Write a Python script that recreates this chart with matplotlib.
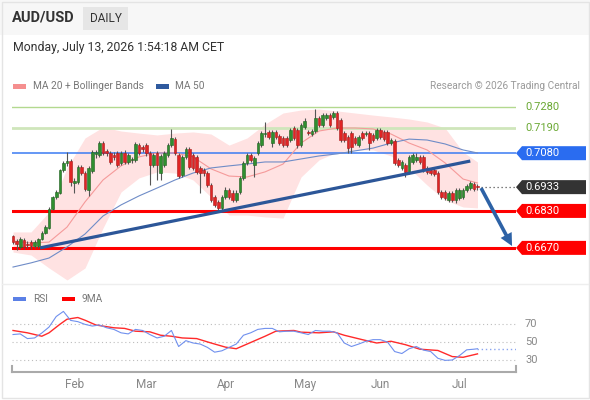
import numpy as np
import pandas as pd
import matplotlib
matplotlib.use('Agg')
import matplotlib.pyplot as plt
from matplotlib.patches import Rectangle, Polygon, FancyArrowPatch
from matplotlib import transforms
from matplotlib.lines import Line2D

plt.rcParams['font.family'] = ['Roboto', 'DejaVu Sans']

# ---------------- data ----------------
opens = [
    0.6720, 0.6700, 0.6674, 0.6705, 0.6687, 0.6696, 0.6679, 0.6679, 0.6709, 0.6735,
    0.6756, 0.6838, 0.6890, 0.6908, 0.7007, 0.7038, 0.7046, 0.6951, 0.6955, 0.7020,
    0.6994, 0.6921, 0.7003, 0.7077, 0.7072, 0.7124, 0.7090, 0.7081, 0.7072, 0.7081,
    0.7038, 0.7081, 0.7042, 0.7051, 0.7051, 0.7116, 0.7107, 0.7116, 0.7081, 0.7029,
    0.7081, 0.6994, 0.7029, 0.7072, 0.7116, 0.7141, 0.7072, 0.6986, 0.7064, 0.7098,
    0.7072, 0.7064, 0.7016, 0.7007, 0.6994, 0.6942, 0.6890, 0.6869, 0.6843, 0.6890,
    0.6921, 0.6908, 0.6877, 0.6912, 0.6973, 0.7038, 0.7072, 0.7029, 0.7081, 0.7116,
    0.7163, 0.7172, 0.7124, 0.7172, 0.7154, 0.7146, 0.7146, 0.7137, 0.7189, 0.7180,
    0.7116, 0.7193, 0.7172, 0.7163, 0.7176, 0.7232, 0.7202, 0.7232, 0.7245, 0.7237,
    0.7254, 0.7224, 0.7167, 0.7150, 0.7167, 0.7146, 0.7116, 0.7167, 0.7163, 0.7167,
    0.7159, 0.7146, 0.7180, 0.7172, 0.7172, 0.7124, 0.7133, 0.7051, 0.7016, 0.7029,
    0.6999, 0.7042, 0.7051, 0.7064, 0.7064, 0.7016, 0.7007, 0.7007, 0.6994, 0.6912,
    0.6912, 0.6877, 0.6908, 0.6877, 0.6886, 0.6890, 0.6921, 0.6929, 0.6947, 0.6938,
]
closes = [
    0.6694, 0.6687, 0.6709, 0.6674, 0.6683, 0.6679, 0.6696, 0.6709, 0.6735, 0.6760,
    0.6838, 0.6890, 0.6912, 0.7007, 0.7038, 0.7046, 0.6955, 0.6960, 0.7020, 0.6994,
    0.6925, 0.7016, 0.7085, 0.7085, 0.7124, 0.7081, 0.7081, 0.7042, 0.7064, 0.7029,
    0.7081, 0.7042, 0.7072, 0.7055, 0.7120, 0.7081, 0.7098, 0.7081, 0.7029, 0.7072,
    0.7029, 0.7068, 0.7081, 0.7116, 0.7146, 0.7081, 0.6981, 0.7064, 0.7098, 0.7020,
    0.7016, 0.6999, 0.6994, 0.6994, 0.6942, 0.6877, 0.6856, 0.6843, 0.6890, 0.6921,
    0.6890, 0.6877, 0.6908, 0.6973, 0.7038, 0.7072, 0.7051, 0.7059, 0.7124, 0.7167,
    0.7167, 0.7150, 0.7172, 0.7150, 0.7124, 0.7116, 0.7116, 0.7180, 0.7146, 0.7116,
    0.7202, 0.7219, 0.7167, 0.7176, 0.7232, 0.7202, 0.7245, 0.7245, 0.7202, 0.7254,
    0.7189, 0.7137, 0.7137, 0.7103, 0.7107, 0.7124, 0.7150, 0.7146, 0.7167, 0.7124,
    0.7137, 0.7180, 0.7150, 0.7141, 0.7124, 0.7137, 0.7038, 0.7029, 0.7042, 0.6999,
    0.7064, 0.7072, 0.7064, 0.7042, 0.7007, 0.6999, 0.6994, 0.6990, 0.6912, 0.6890,
    0.6886, 0.6908, 0.6877, 0.6921, 0.6921, 0.6921, 0.6938, 0.6951, 0.6925, 0.6933,
]
highs = [
    0.6726, 0.6709, 0.6717, 0.6713, 0.6700, 0.6705, 0.6705, 0.6713, 0.6743, 0.6769,
    0.6847, 0.6895, 0.6921, 0.7012, 0.7046, 0.7085, 0.7055, 0.6973, 0.7029, 0.7029,
    0.7003, 0.7025, 0.7094, 0.7094, 0.7133, 0.7133, 0.7098, 0.7090, 0.7085, 0.7090,
    0.7090, 0.7094, 0.7081, 0.7064, 0.7128, 0.7124, 0.7116, 0.7124, 0.7090, 0.7081,
    0.7090, 0.7077, 0.7090, 0.7124, 0.7185, 0.7150, 0.7081, 0.7072, 0.7107, 0.7107,
    0.7081, 0.7072, 0.7025, 0.7016, 0.7003, 0.6951, 0.6899, 0.6877, 0.6899, 0.6934,
    0.6929, 0.6921, 0.6921, 0.6981, 0.7046, 0.7081, 0.7081, 0.7068, 0.7133, 0.7176,
    0.7215, 0.7180, 0.7180, 0.7180, 0.7163, 0.7154, 0.7154, 0.7189, 0.7198, 0.7189,
    0.7211, 0.7232, 0.7180, 0.7185, 0.7271, 0.7241, 0.7254, 0.7254, 0.7254, 0.7263,
    0.7263, 0.7232, 0.7176, 0.7159, 0.7176, 0.7154, 0.7159, 0.7176, 0.7176, 0.7176,
    0.7167, 0.7189, 0.7189, 0.7180, 0.7180, 0.7146, 0.7141, 0.7059, 0.7051, 0.7038,
    0.7072, 0.7081, 0.7081, 0.7072, 0.7072, 0.7025, 0.7016, 0.7016, 0.7003, 0.6921,
    0.6921, 0.6916, 0.6916, 0.6929, 0.6929, 0.6929, 0.6947, 0.6960, 0.6955, 0.6947,
]
lows = [
    0.6688, 0.6661, 0.6666, 0.6666, 0.6670, 0.6666, 0.6670, 0.6670, 0.6705, 0.6730,
    0.6752, 0.6834, 0.6882, 0.6903, 0.6999, 0.7025, 0.6938, 0.6908, 0.6947, 0.6986,
    0.6916, 0.6895, 0.6994, 0.7059, 0.7064, 0.7072, 0.7068, 0.7033, 0.7051, 0.7020,
    0.7029, 0.7033, 0.7033, 0.7038, 0.7042, 0.7072, 0.7085, 0.7068, 0.6942, 0.7020,
    0.6964, 0.6964, 0.7020, 0.7064, 0.7107, 0.7072, 0.6973, 0.6977, 0.7055, 0.7012,
    0.7007, 0.6990, 0.6908, 0.6981, 0.6934, 0.6869, 0.6847, 0.6830, 0.6834, 0.6882,
    0.6882, 0.6869, 0.6869, 0.6903, 0.6964, 0.7029, 0.7042, 0.6977, 0.7072, 0.7107,
    0.7150, 0.7141, 0.7107, 0.7141, 0.7116, 0.7107, 0.7107, 0.7128, 0.7137, 0.7103,
    0.7107, 0.7185, 0.7159, 0.7154, 0.7167, 0.7193, 0.7193, 0.7224, 0.7193, 0.7228,
    0.7180, 0.7128, 0.7128, 0.7081, 0.7081, 0.7116, 0.7107, 0.7137, 0.7154, 0.7094,
    0.7128, 0.7137, 0.7141, 0.7133, 0.7116, 0.7116, 0.7029, 0.7020, 0.7007, 0.6977,
    0.6990, 0.7033, 0.7042, 0.7033, 0.6999, 0.6990, 0.6986, 0.6981, 0.6903, 0.6882,
    0.6877, 0.6869, 0.6869, 0.6864, 0.6877, 0.6882, 0.6912, 0.6921, 0.6916, 0.6921,
]

# indicator samples (candle index -> value)
band_idx = [0, 5, 10, 15, 20, 25, 30, 35, 40, 45, 50, 55, 60, 65, 70, 75, 80, 85,
            90, 95, 100, 105, 110, 115, 120, 125, 129]
ma20 = [0.6700, 0.6691, 0.6695, 0.6760, 0.6869, 0.6964, 0.7025, 0.7064, 0.7081,
        0.7081, 0.7064, 0.7012, 0.6981, 0.6977, 0.6999, 0.7033, 0.7124, 0.7176,
        0.7189, 0.7189, 0.7185, 0.7163, 0.7124, 0.7094, 0.7038, 0.6968, 0.6951]
ma50 = [0.6587, 0.6605, 0.6626, 0.6674, 0.6730, 0.6808, 0.6856, 0.6895, 0.6929,
        0.6964, 0.6994, 0.7016, 0.7025, 0.7033, 0.7042, 0.7042, 0.7055, 0.7068,
        0.7077, 0.7090, 0.7102, 0.7124, 0.7141, 0.7137, 0.7120, 0.7094, 0.7081]
bb_up = [0.6739, 0.6739, 0.6825, 0.7016, 0.7146, 0.7193, 0.7176, 0.7167, 0.7159,
         0.7167, 0.7172, 0.7163, 0.7115, 0.7146, 0.7206, 0.7254, 0.7267, 0.7271,
         0.7263, 0.7254, 0.7245, 0.7237, 0.7228, 0.7215, 0.7189, 0.7085, 0.7042]
bb_lo = [0.6652, 0.6639, 0.6583, 0.6531, 0.6583, 0.6756, 0.6912, 0.6973, 0.6999,
         0.6994, 0.6964, 0.6890, 0.6812, 0.6812, 0.6804, 0.6799, 0.6977, 0.7051,
         0.7085, 0.7094, 0.7094, 0.7068, 0.7016, 0.6942, 0.6877, 0.6847, 0.6843]

rsi_idx = list(range(0, 129, 2)) + [129]
rsi = [58.3, 59.0, 53.8, 54.5, 60.0, 66.6, 78.3, 84.0, 74.0, 72.6,
       69.6, 67.7, 68.9, 65.8, 64.0, 60.2, 59.0, 64.0, 62.8, 58.3,
       54.5, 56.4, 62.8, 45.0, 51.5, 48.9, 47.7, 44.0, 38.7, 40.2,
       44.0, 47.7, 57.5, 60.2, 64.0, 65.1, 65.1, 61.3, 62.0, 62.0,
       60.2, 58.3, 62.8, 62.0, 62.0, 60.2, 48.9, 45.0, 47.7, 50.8,
       52.6, 52.6, 50.0, 39.4, 37.2, 42.5, 45.0, 41.0, 39.4, 31.9,
       29.6, 30.0, 34.9, 41.3, 42.0, 42.5]
ma9_idx = [0, 4, 8, 10, 13, 15, 18, 20, 23, 28, 31, 34, 38, 41, 44, 47, 51, 55, 59,
           62, 65, 70, 73, 78, 80, 85, 89, 92, 97, 101, 105, 109, 113, 118, 122, 125, 129]
ma9 = [62.8, 60.2, 56.4, 60.2, 69.6, 75.3, 77.2, 74.2, 68.9, 65.8, 65.1, 62.0, 61.3,
       57.5, 56.4, 54.5, 53.8, 48.9, 44.3, 42.5, 47.7, 56.4, 62.0, 62.8, 60.9, 60.2,
       61.3, 57.5, 52.6, 48.9, 50.8, 47.0, 42.0, 40.6, 33.8, 33.0, 36.8]

trend_idx = [7.5, 127]
trend_val = [0.6670, 0.7046]
arrow_idx = [130, 138.6]
arrow_val = [0.6929, 0.6678]

green_levels = [0.7280, 0.7190]
blue_level = 0.7080
last_price = 0.6933
red_levels = [0.6830, 0.6670]
rsi_levels = [70, 50, 30]

title = "AUD/USD"
period = "DAILY"
stamp = "Monday, July 13, 2026 1:54:18 AM CET"

# ---------------- figure ----------------
W, H = 590, 400
fig = plt.figure(figsize=(W / 100, H / 100), dpi=100)
fig.patch.set_facecolor('white')


def fx(px):
    return px / W


def fy(py):
    return 1 - py / H


# header background & frame
fig.patches.append(Rectangle((0, fy(35)), 1, 1 - fy(35), transform=fig.transFigure,
                             facecolor='#f7f7f7', edgecolor='none', zorder=0))
fig.patches.append(Rectangle((fx(1.5), fy(397.5)), fx(587), fy(1.5) - fy(397.5),
                             transform=fig.transFigure, facecolor='none',
                             edgecolor='#e4e4e4', lw=1, zorder=0))
fig.lines.append(Line2D([fx(2), fx(588)], [fy(284), fy(284)], transform=fig.transFigure,
                        color='#eeeeee', lw=1))

fig.text(fx(12), fy(18), title, fontsize=10.5, fontweight='bold', color='#333333',
         va='center', ha='left')
fig.patches.append(Rectangle((fx(83), fy(30)), fx(45), fy(7) - fy(30),
                             transform=fig.transFigure, facecolor='#e6e6e6',
                             edgecolor='none'))
fig.text(fx(105.5), fy(18.5), period, fontsize=8.5, color='#333333', va='center', ha='center')
fig.text(fx(13), fy(48), stamp, fontsize=8.8, color='#333333', va='center', ha='left')

# legend (main)
fig.patches.append(Rectangle((fx(13), fy(88.5)), fx(13), fy(84) - fy(88.5),
                             transform=fig.transFigure, facecolor='#f58f8f', edgecolor='none'))
fig.text(fx(33), fy(86), "MA 20 + Bollinger Bands", fontsize=7.3, color='#777777',
         va='center', ha='left')
fig.patches.append(Rectangle((fx(156), fy(88.5)), fx(13), fy(84) - fy(88.5),
                             transform=fig.transFigure, facecolor='#2f5a9e', edgecolor='none'))
fig.text(fx(175), fy(86), "MA 50", fontsize=7.3, color='#777777', va='center', ha='left')
fig.text(fx(580), fy(86), "Research \u00a9 2026 Trading Central", fontsize=7.3,
         color='#9a9a9a', va='center', ha='right')

# legend (rsi)
fig.patches.append(Rectangle((fx(13), fy(301)), fx(13), fy(296.5) - fy(301),
                             transform=fig.transFigure, facecolor='#5b80e6', edgecolor='none'))
fig.text(fx(33), fy(299), "RSI", fontsize=7.3, color='#777777', va='center', ha='left')
fig.patches.append(Rectangle((fx(62), fy(301)), fx(13), fy(296.5) - fy(301),
                             transform=fig.transFigure, facecolor='#ff0000', edgecolor='none'))
fig.text(fx(82), fy(299), "9MA", fontsize=7.3, color='#777777', va='center', ha='left')

# ---------------- main axes ----------------
n = len(closes)
idx = np.arange(n)
dates = pd.bdate_range('2026-01-08', periods=n)
month_pos = [i for i in range(1, n) if dates[i].month != dates[i - 1].month]
month_lab = [dates[i].strftime('%b') for i in month_pos]

XMIN, XMAX = -0.28, 139.7
ax = fig.add_axes([fx(12), fy(283), fx(516) - fx(12), fy(100) - fy(283)])
ax.set_xlim(XMIN, XMAX)
ax.set_ylim(0.65179, 0.73103)
ax.axis('off')

ax.fill_between(band_idx, bb_lo, bb_up, color='#ffe2e2', lw=0, zorder=1)
ax.plot(band_idx, ma20, color='#f59a9a', lw=0.8, zorder=2)
ax.plot(band_idx, ma50, color='#6f8cc7', lw=0.8, zorder=2)

ax.axhline(green_levels[0], color='#b3d98f', lw=1.0, zorder=1.5)
ax.axhline(green_levels[1], color='#cfe6bb', lw=2.0, zorder=1.5)
ax.axhline(blue_level, color='#3a7bf2', lw=1.1, zorder=1.5)
for v in red_levels:
    ax.axhline(v, color='#ff0000', lw=2.2, zorder=1.5)
ax.plot([arrow_idx[0], XMAX], [last_price, last_price], color='#555555',
        ls=(0, (1, 2.2)), lw=0.9, zorder=1.5, clip_on=False)

o = np.array(opens)
c = np.array(closes)
hi = np.array(highs)
lo = np.array(lows)
up = c >= o
ax.vlines(idx, lo, hi, color='#555555', lw=0.8, zorder=3)
body_bottom = np.minimum(o, c)
body_h = np.maximum(np.abs(c - o), 0.00018)
ax.bar(idx, body_h, bottom=body_bottom, width=0.72,
       color=np.where(up, '#2f8f2f', '#e02424'),
       edgecolor=np.where(up, '#1f5f1f', '#a81818'), lw=0.4, zorder=4)

ax.plot(trend_idx, trend_val, color='#2c5698', lw=2.3, solid_capstyle='butt', zorder=5)

arr = FancyArrowPatch((arrow_idx[0], arrow_val[0]), (arrow_idx[1], arrow_val[1]),
                      arrowstyle='simple,head_width=9,head_length=9,tail_width=2.6',
                      mutation_scale=1, color='#2d62a6', lw=0, zorder=6, clip_on=False,
                      shrinkA=0, shrinkB=0)
ax.add_patch(arr)

# price labels
bt = transforms.blended_transform_factory(fig.transFigure, ax.transData)
bh = 14 * (0.73103 - 0.65179) / 183.0


def tag(val, color):
    verts = [(fx(516), val), (fx(522), val + bh / 2), (fx(586), val + bh / 2),
             (fx(586), val - bh / 2), (fx(522), val - bh / 2)]
    ax.add_patch(Polygon(verts, closed=True, transform=bt, facecolor=color,
                         edgecolor='none', clip_on=False, zorder=7))
    ax.text(fx(525), val, f"{val:.4f}", transform=bt, fontsize=8, color='white',
            va='center', ha='left', clip_on=False, zorder=8)


for v in green_levels:
    ax.text(fx(525), v, f"{v:.4f}", transform=bt, fontsize=8, color='#6aa833',
            va='center', ha='left', clip_on=False)
tag(blue_level, '#2a6cf0')
tag(last_price, '#333333')
for v in red_levels:
    tag(v, '#ff0000')

# ---------------- RSI axes ----------------
ax2 = fig.add_axes([fx(12), fy(372), fx(516) - fx(12), fy(305) - fy(372)])
ax2.set_xlim(XMIN, XMAX)
ax2.set_ylim(16.67, 91.1)
for s in ['top', 'left', 'right']:
    ax2.spines[s].set_visible(False)
ax2.spines['bottom'].set_color('#aaaaaa')
ax2.spines['bottom'].set_linewidth(1.5)
ax2.set_facecolor('none')
for xa in (0, 1):
    ax2.plot([xa, xa], [0, 0.09], transform=ax2.transAxes, color='#aaaaaa', lw=1.5,
             clip_on=False)
ax2.set_yticks([])
ax2.set_xticks(month_pos)
ax2.set_xticklabels(month_lab)
ax2.tick_params(axis='x', length=0, pad=4.5, labelsize=8.5, labelcolor='#888888')

bt2 = transforms.blended_transform_factory(fig.transFigure, ax2.transData)
for v in rsi_levels:
    ax2.axhline(v, color='#bdbdbd', ls=(0, (1, 2.5)), lw=0.8, zorder=1)
    ax2.text(fx(525), v, str(v), transform=bt2, fontsize=8, color='#888888',
             va='center', ha='left', clip_on=False)

ax2.plot(ma9_idx, ma9, color='#ff2a2a', lw=1.0, zorder=3)
ax2.plot(rsi_idx, rsi, color='#7090ee', lw=0.8, zorder=4)
ax2.plot([rsi_idx[-1], XMAX], [rsi[-1], rsi[-1]], color='#8aa5f0', ls=(0, (1, 2)),
         lw=1.0, zorder=2)

fig.savefig('out.png', dpi=100)
